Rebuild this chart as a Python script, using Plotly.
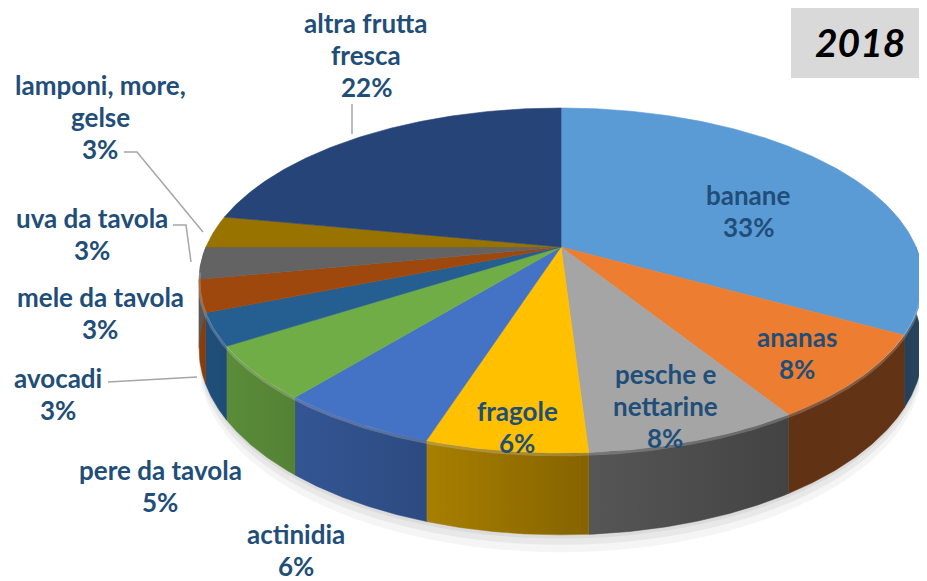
import numpy as np
import plotly.graph_objects as go

# ---------------- data ----------------
categories = ["banane", "ananas", "pesche e\nnettarine", "fragole", "actinidia",
              "pere da tavola", "avocadi", "mele da tavola", "uva da tavola",
              "lamponi, more,\ngelse", "altra frutta\nfresca"]
values = [33, 8, 8, 6, 6, 5, 3, 3, 3, 3, 22]
colors = ["#5B9BD5", "#ED7D31", "#A5A5A5", "#FFC000", "#4472C4", "#70AD47",
          "#255E91", "#9E480E", "#636363", "#997300", "#264478"]
year_label = "2018"

# label placement (centre x, first-line centre y) in pixels
label_pos = [(748, 195), (797, 337), (665, 374), (517, 411), (296, 534),
             (160, 470), (58, 378), (100, 297), (92, 218), (100, 85), (366, 23)]
LINE_H = 32

# ---------------- geometry of the tilted pie ----------------
W, H = 927, 581
OFF = 8          # page body margin
CX, CY = 561, 247
A, B, K = 355, 166, 0.194
D = 66


def proj(theta_deg, drop=0.0):
    t = np.radians(theta_deg)
    u, v = np.sin(t), np.cos(t)
    w = 1 + K * v
    return CX + A * u / w, CY - B * v / w + drop / w


def arc(t1, t2, drop=0.0, n=None):
    if n is None:
        n = max(3, int(abs(t2 - t1) * 2) + 2)
    ts = np.linspace(t1, t2, n)
    x, y = proj(ts, drop)
    return list(x), list(y)


def shade(hexc, f):
    h = hexc.lstrip("#")
    r, g, b = (int(h[i:i + 2], 16) for i in (0, 2, 4))
    return "rgb(%d,%d,%d)" % (min(255, r * f), min(255, g * f), min(255, b * f))


# lighting of the side wall (light from the left)
_lt = [90, 130, 165, 185, 210, 240, 270]
_lf = [0.45, 0.40, 0.42, 0.60, 0.72, 0.82, 0.90]


def light(theta):
    return float(np.interp(theta, _lt, _lf))


total = float(sum(values))
bounds = np.concatenate([[0], np.cumsum(values)]) / total * 360.0

fig = go.Figure()

# soft shadow
for extra, op in [(14, 0.04), (8, 0.05), (3, 0.05)]:
    x, y = arc(60, 300, D + extra)
    x2, y2 = arc(300, 60, 0)
    fig.add_trace(go.Scatter(x=x + x2, y=y + y2, fill="toself", mode="none",
                             fillcolor="rgba(0,0,0,%g)" % op, hoverinfo="skip",
                             showlegend=False))

# side walls (visible front half)
for i, v in enumerate(values):
    t1, t2 = max(bounds[i], 90), min(bounds[i + 1], 270)
    if t2 <= t1:
        continue
    xt, yt = arc(t1, t2, 0)
    xb, yb = arc(t2, t1, D)
    cl, cr = shade(colors[i], light(t2)), shade(colors[i], light(t1))
    fig.add_trace(go.Scatter(
        x=xt + xb + [xt[0]], y=yt + yb + [yt[0]], fill="toself", mode="lines",
        line=dict(width=0.5, color=shade(colors[i], light((t1 + t2) / 2))),
        fillgradient=dict(type="horizontal", colorscale=[[0, cl], [1, cr]]),
        hoverinfo="skip", showlegend=False))

# top faces
for i, v in enumerate(values):
    xa, ya = arc(bounds[i], bounds[i + 1], 0)
    fig.add_trace(go.Scatter(
        x=[CX] + xa + [CX], y=[CY] + ya + [CY], fill="toself", mode="lines",
        line=dict(width=0.6, color=colors[i]), fillcolor=colors[i],
        hoverinfo="skip", showlegend=False))

# rim highlight along front edge
xh, yh = arc(95, 262, 1.5)
fig.add_trace(go.Scatter(x=xh, y=yh, mode="lines",
                         line=dict(width=3, color="rgba(255,255,255,0.2)"),
                         hoverinfo="skip", showlegend=False))

# ---------------- labels ----------------
ann = []
for i, cat in enumerate(categories):
    lines = cat.split("\n") + ["%d%%" % values[i]]
    x0, y0 = label_pos[i]
    for j, ln in enumerate(lines):
        ann.append(dict(x=x0, y=y0 + j * LINE_H, xref="x", yref="y", text="<b>%s</b>" % ln,
                        showarrow=False, xanchor="center", yanchor="middle",
                        font=dict(family="Lato", size=26, color="#1F4E79")))

ann.append(dict(x=860, y=42, xref="x", yref="y", text="<b><i>%s</i></b>" % year_label,
                showarrow=False, xanchor="center", yanchor="middle",
                font=dict(family="Lato", size=39, color="#000000")))

leader = "rgb(166,166,166)"
shapes = [
    dict(type="rect", x0=791, x1=930, y0=6, y1=78, xref="x", yref="y",
         fillcolor="#D9D9D9", line=dict(width=0), layer="below"),
    dict(type="path", path="M 352 104 L 352 134", xref="x", yref="y",
         line=dict(color=leader, width=1.5)),
    dict(type="path", path="M 124 152 L 137 152 L 203 232", xref="x", yref="y",
         line=dict(color=leader, width=1.5)),
    dict(type="path", path="M 173 225 L 186 225 L 191 262", xref="x", yref="y",
         line=dict(color=leader, width=1.5)),
    dict(type="path", path="M 108 382 L 197 377", xref="x", yref="y",
         line=dict(color=leader, width=1.5)),
]

fig.update_layout(
    width=W - OFF, height=H - OFF, margin=dict(l=0, r=0, t=0, b=0),
    paper_bgcolor="white", plot_bgcolor="white",
    xaxis=dict(range=[OFF, W], visible=False, fixedrange=True),
    yaxis=dict(range=[H, OFF], visible=False, fixedrange=True),
    annotations=ann, shapes=shapes, showlegend=False,
)

fig.write_html("out.html")
